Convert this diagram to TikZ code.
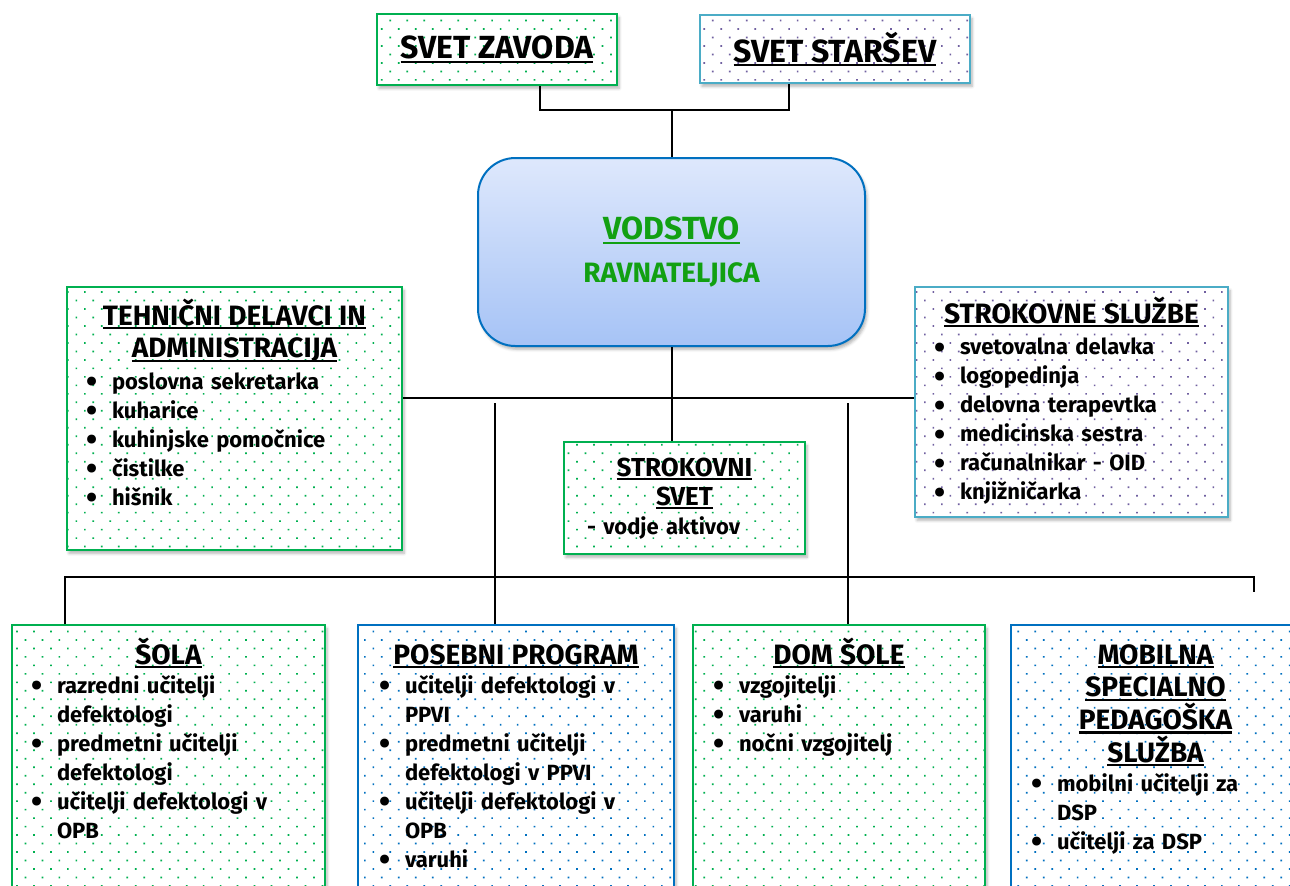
\documentclass[tikz,border=0pt]{standalone}
\usepackage{fontspec}
\setmainfont{Fira Sans}
\usetikzlibrary{positioning, shadows.blur, patterns.meta}

\definecolor{boxgreen}{HTML}{00B050}
\definecolor{boxblue}{HTML}{0070C0}
\definecolor{boxaqua}{HTML}{4BACC6}
\definecolor{dotpurple}{HTML}{7060A0}
\definecolor{leadtop}{HTML}{DEE8FC}
\definecolor{leadbot}{HTML}{A6C3F6}
\definecolor{leadtext}{HTML}{12A012}

\newcommand{\uln}[1]{\leavevmode\setbox0=\hbox{#1}\rlap{\rule[-3pt]{\wd0}{1.6pt}}\box0}
\newcommand{\hd}[1]{{\centering\fontsize{21}{24.5}\selectfont\rule{0pt}{20pt}#1\par}}
\newcommand{\bul}[1]{\par\hangindent=15pt\hangafter=1\noindent\makebox[15pt][l]{\hspace{-4pt}\raisebox{-2.5pt}{\fontsize{24}{24}\selectfont\textbullet}}#1}

\begin{document}
\begin{tikzpicture}[x=0.75pt, y=-0.75pt,
  base/.style={draw, line width=1.5pt, inner sep=0pt, blur shadow={shadow xshift=1.5pt, shadow yshift=-2.5pt, shadow opacity=30, shadow blur steps=6}, preaction={fill=white}},
  greenbox/.style={base, draw=boxgreen, pattern={Dots[distance=9pt, angle=45, radius=0.9pt]}, pattern color=boxgreen},
  bluebox/.style={base, draw=boxblue, pattern={Dots[distance=9pt, angle=45, radius=0.9pt]}, pattern color=boxblue},
  aquabox/.style={base, draw=boxaqua, pattern={Dots[distance=9pt, angle=45, radius=0.9pt]}, pattern color=dotpurple},
  council/.style={font=\fontsize{24}{28}\selectfont\bfseries},
  lead/.style={draw=boxblue, line width=1.5pt, rounded corners=28pt, top color=leadtop, bottom color=leadbot, blur shadow={shadow xshift=1.5pt, shadow yshift=-2.5pt, shadow opacity=30}, align=center, text=leadtext, font=\fontsize{21}{25}\selectfont\bfseries},
  txt/.style={anchor=north, inner sep=0pt, align=left, font=\fontsize{16.5}{21.75}\selectfont\bfseries},
  link/.style={line width=1.2pt, black}
]
\useasboundingbox (0,0) rectangle (1290,886);

% Councils on top
\node[greenbox, council, minimum width=180pt, minimum height=53.25pt] (svz) at (497,49.5) {\uln{SVET ZAVODA}};
\node[aquabox, council, minimum width=202.5pt, minimum height=51pt] (svs) at (835,49) {\uln{SVET STARŠEV}};

% Leadership
\node[lead, minimum width=290.25pt, minimum height=141pt] (vodstvo) at (671.5,252) {{\fontsize{24}{28}\selectfont\uln{VODSTVO}}\\[7pt]RAVNATELJICA};

% Middle row
\node[greenbox, minimum width=251.25pt, minimum height=197.25pt] (tehnicni) at (234.5,418.5) {};
\node[txt, text width=213.75pt] (tehnicni-t) at ([yshift=-9.25pt]tehnicni.north) {\hd{\uln{TEHNIČNI DELAVCI IN}\\\uln{ADMINISTRACIJA}}\vskip2pt
\bul{poslovna sekretarka}
\bul{kuharice}
\bul{kuhinjske pomočnice}
\bul{čistilke}
\bul{hišnik}\par};

\node[aquabox, minimum width=234.75pt, minimum height=172.5pt] (strokovne) at (1071.5,402) {};
\node[txt, text width=197.25pt] (strokovne-t) at ([yshift=-7.75pt]strokovne.north) {\hd{\uln{STROKOVNE SLUŽBE}}\vskip2pt
\bul{svetovalna delavka}
\bul{logopedinja}
\bul{delovna terapevtka}
\bul{medicinska sestra}
\bul{računalnikar - OID}
\bul{knjižničarka}\par};

\node[greenbox, minimum width=180.75pt, minimum height=84pt] (strsvet) at (684.5,498) {};
\node[txt, text width=146.25pt] (strsvet-t) at ([yshift=-6.25pt]strsvet.north) {{\centering\fontsize{19.5}{21.75}\selectfont\rule{0pt}{20pt}\uln{STROKOVNI}\\\uln{SVET}\par}
\noindent- vodje aktivov\par};

% Bottom row
\node[greenbox, minimum width=234.75pt, minimum height=206.25pt] (sola) at (168.5,762.5) {};
\node[txt, text width=197.25pt] (sola-t) at ([yshift=-10pt]sola.north) {\hd{\uln{ŠOLA}}
\bul{razredni učitelji\newline defektologi}
\bul{predmetni učitelji\newline defektologi}
\bul{učitelji defektologi v\newline OPB}\par};

\node[bluebox, minimum width=237pt, minimum height=206.25pt] (posebni) at (516,762.5) {};
\node[txt, text width=196.5pt] (posebni-t) at ([yshift=-10pt]posebni.north) {\hd{\uln{POSEBNI PROGRAM}}
\bul{učitelji defektologi v\newline PPVI}
\bul{predmetni učitelji\newline defektologi v PPVI}
\bul{učitelji defektologi v\newline OPB}
\bul{varuhi}\par};

\node[greenbox, minimum width=219pt, minimum height=206.25pt] (dom) at (839,762.5) {};
\node[txt, text width=180pt] (dom-t) at ([yshift=-10pt]dom.north) {\hd{\uln{DOM ŠOLE}}
\bul{vzgojitelji}
\bul{varuhi}
\bul{nočni vzgojitelj}\par};

\node[bluebox, minimum width=216.75pt, minimum height=206.25pt] (mobilna) at (1155.5,762.5) {};
\node[txt, text width=177.75pt] (mobilna-t) at ([yshift=-10pt]mobilna.north) {\hd{\uln{MOBILNA}\\\uln{SPECIALNO}\\\uln{PEDAGOŠKA}\\\uln{SLUŽBA}}
\bul{mobilni učitelji za\newline DSP}
\bul{učitelji za DSP}\par};

% Connectors
\coordinate (topjoin) at (672,110);
\draw[link] (540,0 |- svz.south) |- (topjoin) -| (789,0 |- svs.south);
\draw[link] (topjoin) -- (topjoin |- vodstvo.north);

\coordinate (midjoin) at (672,398);
\draw[link] (vodstvo.south -| midjoin) -- (midjoin |- strsvet.north);
\draw[link] (tehnicni.east |- midjoin) -- (strokovne.west |- midjoin);

\coordinate (posfoot) at (495,403);
\coordinate (domfoot) at (848,403);
\draw[link] (posfoot) -- (posfoot |- posebni.north);
\draw[link] (domfoot) -- (domfoot |- dom.north);

\coordinate (busl) at (65,577);
\coordinate (busr) at (1254,577);
\coordinate (busend) at (1254,592);
\draw[link] (busl |- sola.north) |- (busr) -- (busend);

\end{tikzpicture}
\end{document}
